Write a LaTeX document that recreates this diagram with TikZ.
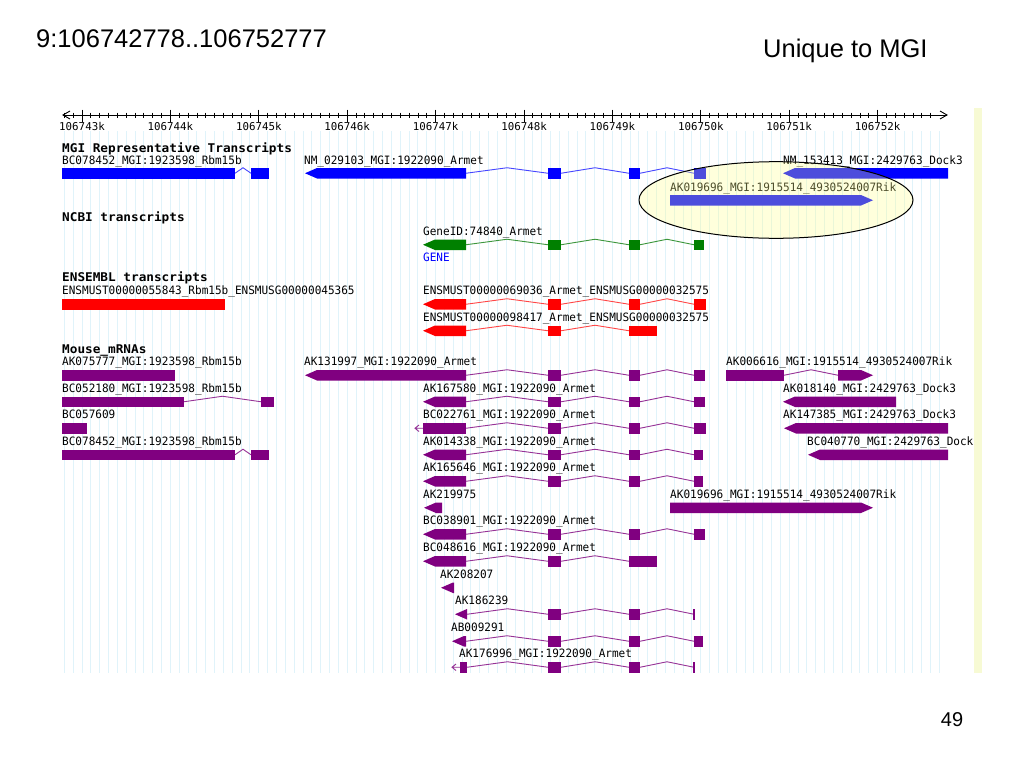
\documentclass[tikz,border=0pt]{standalone}
\usepackage{fontspec}
\setmainfont{Liberation Sans}
\newfontfamily\monof[FakeStretch=0.96]{DejaVu Sans Mono}
\newfontfamily\rulf{DejaVu Sans Mono}
\newfontfamily\headf[FakeStretch=1.06]{DejaVu Sans Mono}
\definecolor{gb}{RGB}{0,0,255}
\definecolor{gbl}{RGB}{70,70,255}
\definecolor{gg}{RGB}{0,128,0}
\definecolor{ggl}{RGB}{60,150,60}
\definecolor{gr}{RGB}{255,0,0}
\definecolor{grl}{RGB}{255,70,70}
\definecolor{gp}{RGB}{128,0,128}
\definecolor{gpl}{RGB}{150,50,150}
\definecolor{gridc}{RGB}{224,243,250}
\definecolor{panelc}{RGB}{247,250,212}
\definecolor{ellc}{RGB}{255,255,140}
% left-pointing exon: color, x1, x2, top
\newcommand\trL[4]{\fill[#1] (#2,{#4+5.25}) -- ({#2+12},#4) -- (#3,#4) -- (#3,{#4+10.5}) -- ({#2+12},{#4+10.5}) -- cycle;}
% right-pointing exon
\newcommand\trR[4]{\fill[#1] (#2,#4) -- ({#3-12},#4) -- (#3,{#4+5.25}) -- ({#3-12},{#4+10.5}) -- (#2,{#4+10.5}) -- cycle;}
% plain exon
\newcommand\trB[4]{\fill[#1] (#2,#4) rectangle (#3,{#4+10.5});}
% intron hat
\newcommand\trI[4]{\draw[#1,line width=0.9pt] (#2,{#4+5.25}) -- ({(#2+#3)/2},{#4-0.25}) -- (#3,{#4+5.25});}
% end tick
\newcommand\trT[3]{\draw[#1,line width=1.5pt] (#2,#3) -- (#2,{#3+10.5});}
% open arrow to the left of x
\newcommand\trO[3]{\draw[#1,line width=0.9pt] (#2,{#3+5.25}) -- ({#2-8},{#3+5.25}) ({#2-4},{#3+2}) -- ({#2-8},{#3+5.25}) -- ({#2-4},{#3+8.5});}
% Armet exon structure after first exon: fill, line, top, last exon end
\newcommand\armet[4]{\trI{#2}{466}{548}{#3}\trI{#2}{561}{629}{#3}\trI{#2}{640}{694}{#3}\trB{#1}{548}{561}{#3}\trB{#1}{629}{640}{#3}\trB{#1}{694}{#4}{#3}}
\begin{document}
\begin{tikzpicture}[x=1pt,y=-1pt,
  lab/.style={font=\monof\fontsize{11.5}{13}\selectfont,inner sep=0pt,anchor=base west},
  head/.style={font=\headf\bfseries\fontsize{12}{14}\selectfont,inner sep=0pt,anchor=base west},
  rul/.style={font=\rulf\fontsize{10.8}{12}\selectfont,inner sep=0pt,anchor=base},
  big/.style={font=\fontsize{25.5}{30}\selectfont,inner sep=0pt,anchor=base west}]
\useasboundingbox[fill=white] (0,0) rectangle (1024,768);

\begin{scope}
\clip (0,100) rectangle (974,690);
% grid
\foreach \k in {-2,...,97}
  \draw[gridc,line width=1pt] ({82+8.84*\k},131) -- ({82+8.84*\k},673);
% ruler
\draw[line width=0.9pt] (63,115) -- (947,115);
\draw[line width=0.9pt] (70,111) -- (63,115) -- (70,119);
\draw[line width=0.9pt] (940,111) -- (947,115) -- (940,119);
\foreach \k in {-2,...,96}
  \draw[line width=0.8pt] ({82+8.84*\k},112.5) -- ({82+8.84*\k},118);
\foreach \k/\lb in {0/106743k,1/106744k,2/106745k,3/106746k,4/106747k,5/106748k,6/106749k,7/106750k,8/106751k,9/106752k}{
  \draw[line width=0.8pt] ({82+88.4*\k},109.5) -- ({82+88.4*\k},121.5);
  \node[rul] (r\k) at ({82+88.4*\k},130) {\lb};
}

% ---- MGI Representative Transcripts
\node[head] (h1) at (62,152) {MGI Representative Transcripts};
\node[lab] (m1) at (62,164) {BC078452\_MGI:1923598\_Rbm15b};
\node[lab] (m2) at (304,164) {NM\_029103\_MGI:1922090\_Armet};
\node[lab] (m3) at (783,164) {NM\_153413\_MGI:2429763\_Dock3};
\node[lab] (m4) at (670,191) {AK019696\_MGI:1915514\_4930524007Rik};
\trI{gbl}{235}{251}{168}\trB{gb}{62}{235}{168}\trB{gb}{251}{269}{168}
\armet{gb}{gbl}{168}{706}\trL{gb}{305}{466}{168}
\trL{gb}{783}{948}{168}
\trR{gb}{670}{873}{195}

% ---- NCBI
\node[head] (h2) at (62,221) {NCBI transcripts};
\node[lab] (n1) at (423,235) {GeneID:74840\_Armet};
\node[lab,text=gb] (n2) at (423,261) {GENE};
\armet{gg}{ggl}{239.5}{704}\trL{gg}{423}{466}{239.5}

% ---- ENSEMBL
\node[head] (h3) at (62,281) {ENSEMBL transcripts};
\node[lab] (e1) at (62,294.5) {ENSMUST00000055843\_Rbm15b\_ENSMUSG00000045365};
\node[lab] (e2) at (423,294.5) {ENSMUST00000069036\_Armet\_ENSMUSG00000032575};
\node[lab] (e3) at (423,321) {ENSMUST00000098417\_Armet\_ENSMUSG00000032575};
\trB{gr}{62}{225}{299}
\armet{gr}{grl}{299}{706}\trL{gr}{423}{466}{299}
\trI{grl}{466}{548}{325.5}\trI{grl}{561}{629}{325.5}\trL{gr}{423}{466}{325.5}\trB{gr}{548}{561}{325.5}\trB{gr}{629}{657}{325.5}

% ---- Mouse mRNAs
\node[head] (h4) at (62,353) {Mouse\_mRNAs};
% row 1
\node[lab] (a1) at (62,365.8) {AK075777\_MGI:1923598\_Rbm15b};
\node[lab] (a2) at (304,365.8) {AK131997\_MGI:1922090\_Armet};
\node[lab] (a3) at (726,365.8) {AK006616\_MGI:1915514\_4930524007Rik};
\trB{gp}{62}{175}{370}
\armet{gp}{gpl}{370}{705}\trL{gp}{305}{466}{370}
\trI{gpl}{784}{838}{370}\trB{gp}{726}{784}{370}\trR{gp}{838}{873}{370}
% row 2
\node[lab] (b1) at (62,392.3) {BC052180\_MGI:1923598\_Rbm15b};
\node[lab] (b2) at (423,392.3) {AK167580\_MGI:1922090\_Armet};
\node[lab] (b3) at (783,392.3) {AK018140\_MGI:2429763\_Dock3};
\trI{gpl}{184}{261}{396.5}\trB{gp}{62}{184}{396.5}\trB{gp}{261}{274}{396.5}
\armet{gp}{gpl}{396.5}{705}\trL{gp}{423}{466}{396.5}
\trL{gp}{783}{896}{396.5}
% row 3
\node[lab] (c1) at (62,418.8) {BC057609};
\node[lab] (c2) at (423,418.8) {BC022761\_MGI:1922090\_Armet};
\node[lab] (c3) at (783,418.8) {AK147385\_MGI:2429763\_Dock3};
\trB{gp}{62}{87}{423}
\trO{gpl}{423}{423}\armet{gp}{gpl}{423}{706}\trB{gp}{423}{466}{423}
\trL{gp}{784}{948}{423}
% row 4
\node[lab] (d1) at (62,445.3) {BC078452\_MGI:1923598\_Rbm15b};
\node[lab] (d2) at (423,445.3) {AK014338\_MGI:1922090\_Armet};
\node[lab] (d3) at (807,445.3) {BC040770\_MGI:2429763\_Dock3};
\trI{gpl}{235}{251}{449.5}\trB{gp}{62}{235}{449.5}\trB{gp}{251}{269}{449.5}
\armet{gp}{gpl}{449.5}{703}\trL{gp}{423}{466}{449.5}
\trL{gp}{808}{948}{449.5}
% row 5
\node[lab] (f1) at (423,471.8) {AK165646\_MGI:1922090\_Armet};
\armet{gp}{gpl}{476}{703}\trL{gp}{423}{466}{476}
% row 6
\node[lab] (g1) at (423,498.3) {AK219975};
\node[lab] (g2) at (670,498.3) {AK019696\_MGI:1915514\_4930524007Rik};
\trL{gp}{424}{442}{502.5}\trR{gp}{670}{873}{502.5}
% row 7
\node[lab] (k1) at (423,524.8) {BC038901\_MGI:1922090\_Armet};
\armet{gp}{gpl}{529}{705}\trL{gp}{423}{466}{529}
% row 8
\node[lab] (p1) at (423,551.8) {BC048616\_MGI:1922090\_Armet};
\trI{gpl}{466}{548}{556}\trI{gpl}{561}{629}{556}\trL{gp}{423}{466}{556}\trB{gp}{548}{561}{556}\trB{gp}{629}{657}{556}
% row 9
\node[lab] (q1) at (440,578.3) {AK208207};
\trL{gp}{441}{454}{582.5}
% row 10
\node[lab] (s1) at (455,604.8) {AK186239};
\trI{gpl}{467}{548}{609}\trI{gpl}{561}{629}{609}\trI{gpl}{640}{694}{609}
\trL{gp}{455}{467}{609}\trB{gp}{548}{561}{609}\trB{gp}{629}{640}{609}\trT{gp}{694}{609}
% row 11
\node[lab] (u1) at (451,631.8) {AB009291};
\armet{gp}{gpl}{636}{703}\trL{gp}{452}{466}{636}
% row 12
\node[lab] (v1) at (459,657.8) {AK176996\_MGI:1922090\_Armet};
\trO{gpl}{460}{662}
\trI{gpl}{467}{548}{662}\trI{gpl}{561}{629}{662}\trI{gpl}{640}{694}{662}
\trB{gp}{460}{467}{662}\trB{gp}{548}{561}{662}\trB{gp}{629}{640}{662}\trT{gp}{694}{662}

% highlight ellipse
\draw[black,line width=1pt,fill=ellc,fill opacity=0.3] (776,200) ellipse [x radius=137, y radius=38.3];
\end{scope}

% right panel
\fill[panelc] (974,108) rectangle (982,673);

% slide texts
\node[big] (t1) at (36,48) {9:106742778..106752777};
\node[big] (t2) at (763,57) {Unique to MGI};
\node[font=\fontsize{20}{24}\selectfont,inner sep=0pt,anchor=base] (pg) at (952,726) {49};
\end{tikzpicture}
\end{document}
